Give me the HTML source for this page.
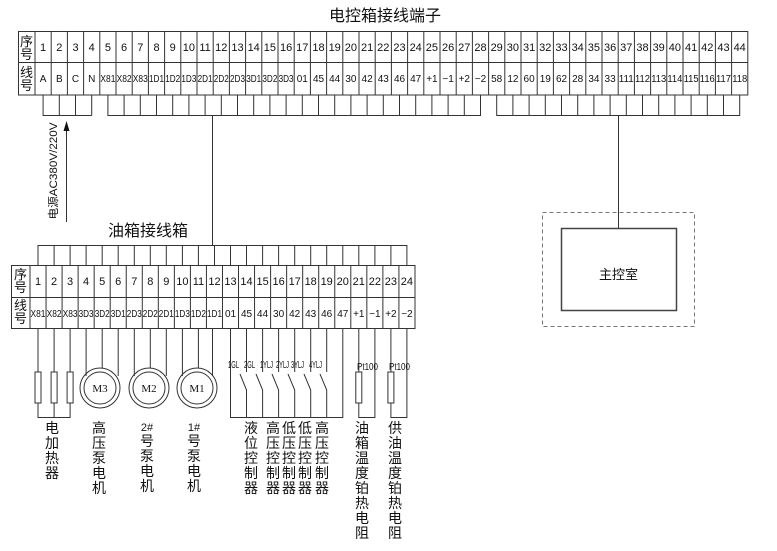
<!DOCTYPE html>
<html><head><meta charset="utf-8"><style>
html,body{margin:0;padding:0;background:#fff;}
svg{display:block;}
text{font-family:"Liberation Sans","Noto Sans CJK SC",sans-serif;fill:#111;}
text.m{font-family:"Liberation Serif",serif;font-size:11px;text-anchor:middle;}
.n{font-size:11px;text-anchor:middle;}
.c{font-size:14px;text-anchor:middle;}
.s{font-size:10px;}
</style></head><body>
<svg width="777" height="551" viewBox="0 0 777 551" xmlns="http://www.w3.org/2000/svg">
<g fill="none" stroke="#333" stroke-width="1">
<rect x="18.5" y="31.5" width="729.3" height="63.5"/>
<path d="M18.5 62.5H747.8 M35 31V95 M51.2 31V95 M67.4 31V95 M83.6 31V95 M99.8 31V95 M116 31V95 M132.2 31V95 M148.4 31V95 M164.6 31V95 M180.8 31V95 M197 31V95 M213.2 31V95 M229.4 31V95 M245.6 31V95 M261.8 31V95 M278 31V95 M294.2 31V95 M310.4 31V95 M326.6 31V95 M342.8 31V95 M359 31V95 M375.2 31V95 M391.4 31V95 M407.6 31V95 M423.8 31V95 M440 31V95 M456.2 31V95 M472.4 31V95 M488.6 31V95 M504.8 31V95 M521 31V95 M537.2 31V95 M553.4 31V95 M569.6 31V95 M585.8 31V95 M602 31V95 M618.2 31V95 M634.4 31V95 M650.6 31V95 M666.8 31V95 M683 31V95 M699.2 31V95 M715.4 31V95 M731.6 31V95"/>
<path d="M43.1 95V115.5H91.7 M59.3 95V115 M75.5 95V115 M91.7 95V115.5"/>
<path d="M107.9 95V115.5H480.5V95 M124.1 95V115 M140.3 95V115 M156.5 95V115 M172.7 95V115 M188.9 95V115 M205.1 95V115 M221.3 95V115 M237.5 95V115 M253.7 95V115 M269.9 95V115 M286.1 95V115 M302.3 95V115 M318.5 95V115 M334.7 95V115 M350.9 95V115 M367.1 95V115 M383.3 95V115 M399.5 95V115 M415.7 95V115 M431.9 95V115 M448.1 95V115 M464.3 95V115"/>
<path d="M496.7 95V115.5H739.7V95 M512.9 95V115 M529.1 95V115 M545.3 95V115 M561.5 95V115 M577.7 95V115 M593.9 95V115 M610.1 95V115 M626.3 95V115 M642.5 95V115 M658.7 95V115 M674.9 95V115 M691.1 95V115 M707.3 95V115 M723.5 95V115"/>
<path d="M212.5 115V245 M618.5 115V228"/>
<path d="M66.5 130V222"/>
<rect x="542.5" y="212.5" width="152" height="114" stroke="#777" stroke-dasharray="4,3"/>
<rect x="561.5" y="228.5" width="115" height="82" stroke="#444" stroke-width="1.5"/>
<path d="M38 265V245.5H406.9V265 M54.1 245V265 M70.1 245V265 M86.1 245V265 M102.2 245V265 M118.2 245V265 M134.3 245V265 M150.3 245V265 M166.3 245V265 M182.4 245V265 M198.4 245V265 M214.5 245V265 M230.5 245V265 M246.5 245V265 M262.6 245V265 M278.6 245V265 M294.7 245V265 M310.7 245V265 M326.7 245V265 M342.8 245V265 M358.8 245V265 M374.9 245V265 M390.9 245V265"/>
<rect x="11.5" y="265.5" width="403.5" height="63"/>
<path d="M11.5 297.5H415 M30 265V329 M46.04 265V329 M62.08 265V329 M78.12 265V329 M94.16 265V329 M110.2 265V329 M126.24 265V329 M142.28 265V329 M158.32 265V329 M174.36 265V329 M190.4 265V329 M206.44 265V329 M222.48 265V329 M238.52 265V329 M254.56 265V329 M270.6 265V329 M286.64 265V329 M302.68 265V329 M318.72 265V329 M334.76 265V329 M350.8 265V329 M366.84 265V329 M382.88 265V329 M398.92 265V329"/>
<path d="M38 329V372 M54.1 329V372 M70.1 329V372 M38 403V417.5H70.1V403 M54.1 403V417"/>
<rect x="35" y="372" width="6" height="31"/><rect x="51.1" y="372" width="6" height="31"/><rect x="67.1" y="372" width="6" height="31"/>
<circle cx="100" cy="388" r="20"/><circle cx="100" cy="388" r="16"/>
<path d="M86.1 329V376 M102.2 329V368 M118.2 329V376"/>
<circle cx="149" cy="388" r="20"/><circle cx="149" cy="388" r="16"/>
<path d="M134.3 329V376 M150.3 329V368 M166.3 329V376"/>
<circle cx="197" cy="388" r="20"/><circle cx="197" cy="388" r="16"/>
<path d="M182.4 329V376 M198.4 329V368 M212.5 329V376"/>
<path d="M230.5 329V417.5H342.8V329"/>
<path d="M246.5 329V372 M240 374L246.5 390V417 M262.6 329V372 M256 374L262.6 390V417 M278.6 329V372 M272 374L278.6 390V417 M294.7 329V372 M288 374L294.7 390V417 M310.7 329V372 M304 374L310.7 390V417 M326.7 329V372 M320 374L326.7 390V417"/>
<path d="M358.8 329V372 M358.8 403V417.5H374.9V329 M390.9 329V372 M390.9 403V417.5H406.9V329"/>
<rect x="355.8" y="372" width="6" height="31"/><rect x="387.9" y="372" width="6" height="31"/>
</g>
<polygon points="66.5,121 63.5,131 69.5,131" fill="#111"/>

<text x="385" y="21" style="font-size:16px;text-anchor:middle">电控箱接线端子</text>
<text x="148" y="236" style="font-size:16px;text-anchor:middle">油箱接线箱</text>
<text x="618.5" y="279" style="font-size:13px;text-anchor:middle">主控室</text>
<text transform="translate(57,171) rotate(-90)" style="font-size:11px;text-anchor:middle" textLength="97" lengthAdjust="spacingAndGlyphs">电源AC380V/220V</text>

<text class="c" style="font-size:13px"><tspan x="26.5" y="46">序</tspan><tspan x="26.5" y="59">号</tspan></text>
<text class="c" style="font-size:13px"><tspan x="26.5" y="77">线</tspan><tspan x="26.5" y="90">号</tspan></text>
<g class="n">
<text x="43.1" y="51">1</text><text x="59.3" y="51">2</text><text x="75.5" y="51">3</text><text x="91.7" y="51">4</text><text x="107.9" y="51">5</text><text x="124.1" y="51">6</text><text x="140.3" y="51">7</text><text x="156.5" y="51">8</text><text x="172.7" y="51">9</text><text x="188.9" y="51">10</text><text x="205.1" y="51">11</text><text x="221.3" y="51">12</text><text x="237.5" y="51">13</text><text x="253.7" y="51">14</text><text x="269.9" y="51">15</text><text x="286.1" y="51">16</text><text x="302.3" y="51">17</text><text x="318.5" y="51">18</text><text x="334.7" y="51">19</text><text x="350.9" y="51">20</text><text x="367.1" y="51">21</text><text x="383.3" y="51">22</text><text x="399.5" y="51">23</text><text x="415.7" y="51">24</text><text x="431.9" y="51">25</text><text x="448.1" y="51">26</text><text x="464.3" y="51">27</text><text x="480.5" y="51">28</text><text x="496.7" y="51">29</text><text x="512.9" y="51">30</text><text x="529.1" y="51">31</text><text x="545.3" y="51">32</text><text x="561.5" y="51">33</text><text x="577.7" y="51">34</text><text x="593.9" y="51">35</text><text x="610.1" y="51">36</text><text x="626.3" y="51">37</text><text x="642.5" y="51">38</text><text x="658.7" y="51">39</text><text x="674.9" y="51">40</text><text x="691.1" y="51">41</text><text x="707.3" y="51">42</text><text x="723.5" y="51">43</text><text x="739.7" y="51">44</text>
</g>
<g class="n" style="font-size:10px">
<text x="43.1" y="82">A</text><text x="59.3" y="82">B</text><text x="75.5" y="82">C</text><text x="91.7" y="82">N</text>
<text x="107.9" y="82" textLength="15" lengthAdjust="spacingAndGlyphs">X81</text><text x="124.1" y="82" textLength="15" lengthAdjust="spacingAndGlyphs">X82</text><text x="140.3" y="82" textLength="15" lengthAdjust="spacingAndGlyphs">X83</text><text x="156.5" y="82" textLength="15" lengthAdjust="spacingAndGlyphs">1D1</text><text x="172.7" y="82" textLength="15" lengthAdjust="spacingAndGlyphs">1D2</text><text x="188.9" y="82" textLength="15" lengthAdjust="spacingAndGlyphs">1D3</text><text x="205.1" y="82" textLength="15" lengthAdjust="spacingAndGlyphs">2D1</text><text x="221.3" y="82" textLength="15" lengthAdjust="spacingAndGlyphs">2D2</text><text x="237.5" y="82" textLength="15" lengthAdjust="spacingAndGlyphs">2D3</text><text x="253.7" y="82" textLength="15" lengthAdjust="spacingAndGlyphs">3D1</text><text x="269.9" y="82" textLength="15" lengthAdjust="spacingAndGlyphs">3D2</text><text x="286.1" y="82" textLength="15" lengthAdjust="spacingAndGlyphs">3D3</text>
<text x="302.3" y="82">01</text><text x="318.5" y="82">45</text><text x="334.7" y="82">44</text><text x="350.9" y="82">30</text><text x="367.1" y="82">42</text><text x="383.3" y="82">43</text><text x="399.5" y="82">46</text><text x="415.7" y="82">47</text><text x="431.9" y="82">+1</text><text x="448.1" y="82">−1</text><text x="464.3" y="82">+2</text><text x="480.5" y="82">−2</text><text x="496.7" y="82">58</text><text x="512.9" y="82">12</text><text x="529.1" y="82">60</text><text x="545.3" y="82">19</text><text x="561.5" y="82">62</text><text x="577.7" y="82">28</text><text x="593.9" y="82">34</text><text x="610.1" y="82">33</text>
<text x="626.3" y="82" textLength="15" lengthAdjust="spacingAndGlyphs">111</text><text x="642.5" y="82" textLength="15" lengthAdjust="spacingAndGlyphs">112</text><text x="658.7" y="82" textLength="15" lengthAdjust="spacingAndGlyphs">113</text><text x="674.9" y="82" textLength="15" lengthAdjust="spacingAndGlyphs">114</text><text x="691.1" y="82" textLength="15" lengthAdjust="spacingAndGlyphs">115</text><text x="707.3" y="82" textLength="15" lengthAdjust="spacingAndGlyphs">116</text><text x="723.5" y="82" textLength="15" lengthAdjust="spacingAndGlyphs">117</text><text x="739.7" y="82" textLength="15" lengthAdjust="spacingAndGlyphs">118</text>
</g>

<text class="c" style="font-size:13px"><tspan x="20.5" y="279">序</tspan><tspan x="20.5" y="292">号</tspan></text>
<text class="c" style="font-size:13px"><tspan x="20.5" y="310">线</tspan><tspan x="20.5" y="323">号</tspan></text>
<g class="n">
<text x="38" y="285">1</text><text x="54.1" y="285">2</text><text x="70.1" y="285">3</text><text x="86.1" y="285">4</text><text x="102.2" y="285">5</text><text x="118.2" y="285">6</text><text x="134.3" y="285">7</text><text x="150.3" y="285">8</text><text x="166.3" y="285">9</text><text x="182.4" y="285">10</text><text x="198.4" y="285">11</text><text x="214.5" y="285">12</text><text x="230.5" y="285">13</text><text x="246.5" y="285">14</text><text x="262.6" y="285">15</text><text x="278.6" y="285">16</text><text x="294.7" y="285">17</text><text x="310.7" y="285">18</text><text x="326.7" y="285">19</text><text x="342.8" y="285">20</text><text x="358.8" y="285">21</text><text x="374.9" y="285">22</text><text x="390.9" y="285">23</text><text x="406.9" y="285">24</text>
</g>
<g class="n" style="font-size:10px">
<text x="38" y="317" textLength="15" lengthAdjust="spacingAndGlyphs">X81</text><text x="54.1" y="317" textLength="15" lengthAdjust="spacingAndGlyphs">X82</text><text x="70.1" y="317" textLength="15" lengthAdjust="spacingAndGlyphs">X83</text><text x="86.1" y="317" textLength="15" lengthAdjust="spacingAndGlyphs">3D3</text><text x="102.2" y="317" textLength="15" lengthAdjust="spacingAndGlyphs">3D2</text><text x="118.2" y="317" textLength="15" lengthAdjust="spacingAndGlyphs">3D1</text><text x="134.3" y="317" textLength="15" lengthAdjust="spacingAndGlyphs">2D3</text><text x="150.3" y="317" textLength="15" lengthAdjust="spacingAndGlyphs">2D2</text><text x="166.3" y="317" textLength="15" lengthAdjust="spacingAndGlyphs">2D1</text><text x="182.4" y="317" textLength="15" lengthAdjust="spacingAndGlyphs">1D3</text><text x="198.4" y="317" textLength="15" lengthAdjust="spacingAndGlyphs">1D2</text><text x="214.5" y="317" textLength="15" lengthAdjust="spacingAndGlyphs">1D1</text>
<text x="230.5" y="317">01</text><text x="246.5" y="317">45</text><text x="262.6" y="317">44</text><text x="278.6" y="317">30</text><text x="294.7" y="317">42</text><text x="310.7" y="317">43</text><text x="326.7" y="317">46</text><text x="342.8" y="317">47</text><text x="358.8" y="317">+1</text><text x="374.9" y="317">−1</text><text x="390.9" y="317">+2</text><text x="406.9" y="317">−2</text>
</g>

<text class="m" x="100" y="392">M3</text><text class="m" x="149" y="392">M2</text><text class="m" x="197" y="392">M1</text>

<g class="s">
<text x="228" y="368" textLength="11" lengthAdjust="spacingAndGlyphs">1GL</text>
<text x="244" y="368" textLength="11" lengthAdjust="spacingAndGlyphs">2GL</text>
<text x="260" y="368" textLength="13" lengthAdjust="spacingAndGlyphs">1YLJ</text>
<text x="276" y="368" textLength="13" lengthAdjust="spacingAndGlyphs">2YLJ</text>
<text x="291" y="368" textLength="13" lengthAdjust="spacingAndGlyphs">3YLJ</text>
<text x="309" y="368" textLength="13" lengthAdjust="spacingAndGlyphs">4YLJ</text>
<text x="357" y="370" textLength="21" lengthAdjust="spacingAndGlyphs">Pt100</text>
<text x="389" y="370" textLength="21" lengthAdjust="spacingAndGlyphs">Pt100</text>
</g>

<g class="c">
<text><tspan x="52" y="433">电</tspan><tspan x="52" dy="15">加</tspan><tspan x="52" dy="15">热</tspan><tspan x="52" dy="15">器</tspan></text>
<text><tspan x="99" y="433">高</tspan><tspan x="99" dy="15">压</tspan><tspan x="99" dy="15">泵</tspan><tspan x="99" dy="15">电</tspan><tspan x="99" dy="15">机</tspan></text>
<text><tspan x="147" y="431" style="font-size:11px">2#</tspan><tspan x="147" dy="15">号</tspan><tspan x="147" dy="15">泵</tspan><tspan x="147" dy="15">电</tspan><tspan x="147" dy="15">机</tspan></text>
<text><tspan x="194" y="431" style="font-size:11px">1#</tspan><tspan x="194" dy="15">号</tspan><tspan x="194" dy="15">泵</tspan><tspan x="194" dy="15">电</tspan><tspan x="194" dy="15">机</tspan></text>
<text><tspan x="251" y="433">液</tspan><tspan x="251" dy="15">位</tspan><tspan x="251" dy="15">控</tspan><tspan x="251" dy="15">制</tspan><tspan x="251" dy="15">器</tspan></text>
<text><tspan x="273" y="433">高</tspan><tspan x="273" dy="15">压</tspan><tspan x="273" dy="15">控</tspan><tspan x="273" dy="15">制</tspan><tspan x="273" dy="15">器</tspan></text>
<text><tspan x="289" y="433">低</tspan><tspan x="289" dy="15">压</tspan><tspan x="289" dy="15">控</tspan><tspan x="289" dy="15">制</tspan><tspan x="289" dy="15">器</tspan></text>
<text><tspan x="305" y="433">低</tspan><tspan x="305" dy="15">压</tspan><tspan x="305" dy="15">控</tspan><tspan x="305" dy="15">制</tspan><tspan x="305" dy="15">器</tspan></text>
<text><tspan x="322" y="433">高</tspan><tspan x="322" dy="15">压</tspan><tspan x="322" dy="15">控</tspan><tspan x="322" dy="15">制</tspan><tspan x="322" dy="15">器</tspan></text>
<text><tspan x="362" y="433">油</tspan><tspan x="362" dy="15">箱</tspan><tspan x="362" dy="15">温</tspan><tspan x="362" dy="15">度</tspan><tspan x="362" dy="15">铂</tspan><tspan x="362" dy="15">热</tspan><tspan x="362" dy="15">电</tspan><tspan x="362" dy="15">阻</tspan></text>
<text><tspan x="395" y="433">供</tspan><tspan x="395" dy="15">油</tspan><tspan x="395" dy="15">温</tspan><tspan x="395" dy="15">度</tspan><tspan x="395" dy="15">铂</tspan><tspan x="395" dy="15">热</tspan><tspan x="395" dy="15">电</tspan><tspan x="395" dy="15">阻</tspan></text>
</g>
</svg>
</body></html>
